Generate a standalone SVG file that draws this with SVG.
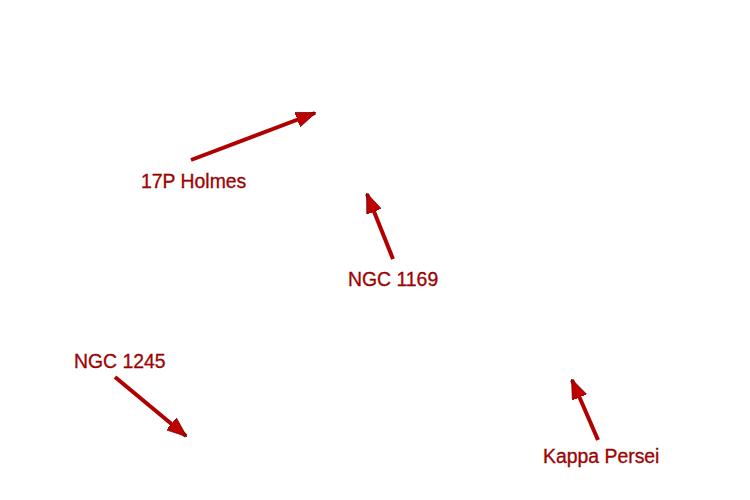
<svg xmlns="http://www.w3.org/2000/svg" width="750" height="500" viewBox="0 0 750 500">
<style>
.lbl{font-family:"Liberation Sans",Arial,sans-serif;font-size:19.4px;fill:#b00000;stroke:#700000;stroke-width:0.3}
.arr{stroke:#b00000;stroke-width:4;fill:none}
</style>
<defs>
<marker id="ah" markerUnits="userSpaceOnUse" markerWidth="20" markerHeight="16" refX="17" refY="7" orient="auto" viewBox="0 0 18 14">
<path d="M0,0 L18,7 L0,14 Z" fill="#c00000" stroke="#600000" stroke-width="0.6"/>
</marker>
</defs>
<rect width="750" height="500" fill="#ffffff"/>
<g id="connectors">
<line class="arr" x1="191" y1="160" x2="315" y2="113" marker-end="url(#ah)"/>
<line class="arr" x1="115" y1="377" x2="186" y2="436" marker-end="url(#ah)"/>
<line class="arr" x1="393" y1="259" x2="367" y2="194" marker-end="url(#ah)"/>
<line class="arr" x1="598" y1="440" x2="572" y2="380" marker-end="url(#ah)"/>
</g>
<g id="holmes"><text class="lbl" x="141" y="188">17P Holmes</text></g>
<g id="ngc1169"><text class="lbl" x="348" y="286">NGC 1169</text></g>
<g id="ngc1245"><text class="lbl" x="74" y="368">NGC 1245</text></g>
<g id="kappa"><text class="lbl" x="543" y="463">Kappa Persei</text></g>
</svg>
